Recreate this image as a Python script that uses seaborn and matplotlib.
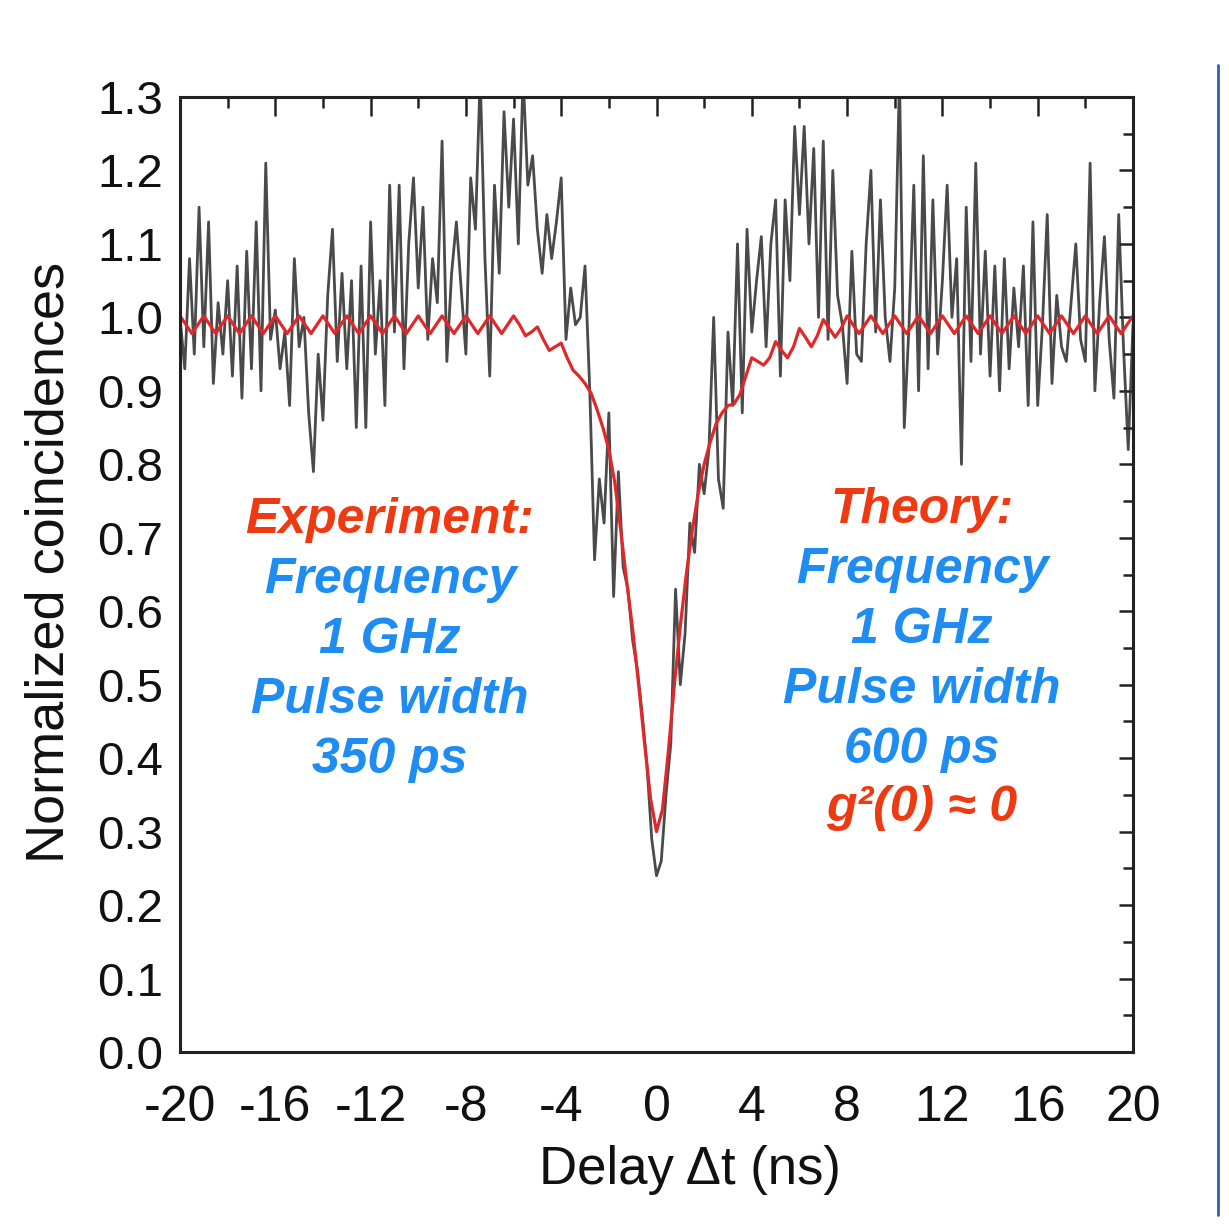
import numpy as np
import pandas as pd
import matplotlib
matplotlib.use("Agg")
import matplotlib.pyplot as plt
from matplotlib.lines import Line2D
from matplotlib.ticker import MultipleLocator, FixedLocator
import seaborn as sns

# ---------------- data ----------------
# measured normalized coincidences, one value every 0.2 ns from -20 to 20 ns
coinc_exp = [
    1.00, 0.93, 1.08, 0.95, 1.15,   # -20
    0.96, 1.13, 0.91, 1.02, 0.95,   # -19
    1.05, 0.92, 1.07, 0.89, 1.09,   # -18
    0.93, 1.13, 0.90, 1.21, 0.97,   # -17
    1.01, 0.93, 0.98, 0.88, 1.08,   # -16
    0.96, 1.00, 0.87, 0.79, 0.95,   # -15
    0.86, 1.03, 1.12, 0.94, 1.06,   # -14
    0.93, 1.05, 0.85, 1.07, 0.85,   # -13
    1.13, 0.95, 1.05, 0.88, 1.18,   # -12
    0.98, 1.18, 0.93, 1.10, 1.19,   # -11
    1.04, 1.15, 0.97, 1.08, 1.02,   # -10
    1.24, 0.94, 1.06, 1.13, 1.04,   # -9
    0.95, 1.19, 1.12, 1.33, 1.08,   # -8
    0.92, 1.18, 1.06, 1.28, 1.15,   # -7
    1.27, 1.10, 1.33, 1.18, 1.22,   # -6
    1.12, 1.06, 1.14, 1.08, 1.13,   # -5
    1.19, 0.97, 1.04, 0.99, 1.00,   # -4
    1.07, 0.90, 0.67, 0.78, 0.72,   # -3
    0.87, 0.62, 0.79, 0.66, 0.63,   # -2
    0.56, 0.52, 0.46, 0.39, 0.29,   # -1
    0.24, 0.26, 0.35, 0.42, 0.63,   # 0
    0.50, 0.57, 0.72, 0.68, 0.80,   # 1
    0.76, 0.82, 1.00, 0.78, 0.74,   # 2
    0.98, 0.88, 1.10, 0.87, 1.12,   # 3
    0.98, 1.05, 1.11, 0.96, 1.10,   # 4
    1.16, 0.92, 1.16, 1.05, 1.26,   # 5
    1.14, 1.26, 1.10, 1.23, 1.00,   # 6
    1.24, 0.97, 1.20, 1.03, 0.99,   # 7
    0.91, 1.09, 0.95, 0.94, 1.10,   # 8
    1.20, 0.98, 1.16, 1.00, 0.94,   # 9
    1.04, 1.33, 0.85, 0.99, 1.18,   # 10
    0.90, 1.22, 0.93, 1.16, 0.95,   # 11
    1.05, 1.18, 1.00, 1.08, 0.80,   # 12
    1.15, 0.94, 1.21, 0.95, 1.09,   # 13
    0.92, 1.07, 0.90, 1.08, 0.93,   # 14
    1.04, 0.96, 1.07, 0.88, 1.13,   # 15
    0.88, 0.99, 1.14, 0.91, 1.03,   # 16
    0.96, 0.94, 1.02, 1.10, 0.97,   # 17
    0.94, 1.21, 0.90, 1.02, 1.11,   # 18
    0.97, 0.89, 1.14, 0.96, 0.82,   # 19
    0.99,                           # 20
]

# theory curve, one value every 0.25 ns from -20 to 20 ns
coinc_theory = [
    1.002, 0.990, 0.978, 0.990,   # -20
    1.002, 0.990, 0.978, 0.990,   # -19
    1.002, 0.990, 0.978, 0.990,   # -18
    1.002, 0.990, 0.978, 0.990,   # -17
    1.002, 0.990, 0.978, 0.990,   # -16
    1.002, 0.990, 0.978, 0.990,   # -15
    1.002, 0.990, 0.978, 0.990,   # -14
    1.002, 0.990, 0.978, 0.990,   # -13
    1.002, 0.990, 0.978, 0.990,   # -12
    1.002, 0.990, 0.978, 0.990,   # -11
    1.002, 0.990, 0.978, 0.990,   # -10
    1.002, 0.990, 0.978, 0.990,   # -9
    1.002, 0.990, 0.978, 0.990,   # -8
    1.002, 0.990, 0.978, 0.990,   # -7
    1.002, 0.990, 0.975, 0.980,   # -6
    0.987, 0.970, 0.955, 0.960,   # -5
    0.965, 0.945, 0.928, 0.920,   # -4
    0.910, 0.897, 0.875, 0.850,   # -3
    0.820, 0.775, 0.710, 0.640,   # -2
    0.575, 0.500, 0.420, 0.345,   # -1
    0.300, 0.330, 0.410, 0.500,   # 0
    0.580, 0.650, 0.710, 0.760,   # 1
    0.800, 0.830, 0.855, 0.870,   # 2
    0.880, 0.882, 0.895, 0.920,   # 3
    0.945, 0.940, 0.935, 0.945,   # 4
    0.967, 0.955, 0.945, 0.960,   # 5
    0.985, 0.973, 0.960, 0.975,   # 6
    0.997, 0.985, 0.973, 0.985,   # 7
    1.002, 0.990, 0.978, 0.990,   # 8
    1.002, 0.990, 0.978, 0.990,   # 9
    1.002, 0.990, 0.978, 0.990,   # 10
    1.002, 0.990, 0.978, 0.990,   # 11
    1.002, 0.990, 0.978, 0.990,   # 12
    1.002, 0.990, 0.978, 0.990,   # 13
    1.002, 0.990, 0.978, 0.990,   # 14
    1.002, 0.990, 0.978, 0.990,   # 15
    1.002, 0.990, 0.978, 0.990,   # 16
    1.002, 0.990, 0.978, 0.990,   # 17
    1.002, 0.990, 0.978, 0.990,   # 18
    1.002, 0.990, 0.978, 0.990,   # 19
    1.002,                        # 20
]

xtick_values = [-20, -16, -12, -8, -4, 0, 4, 8, 12, 16, 20]
xtick_labels = ["-20", "-16", "-12", "-8", "-4", "0", "4", "8", "12", "16", "20"]
ytick_values = [0.0, 0.1, 0.2, 0.3, 0.4, 0.5, 0.6, 0.7, 0.8, 0.9, 1.0, 1.1, 1.2, 1.3]
ytick_labels = ["0.0", "0.1", "0.2", "0.3", "0.4", "0.5", "0.6", "0.7",
                "0.8", "0.9", "1.0", "1.1", "1.2", "1.3"]

left_notes = ["Experiment:", "Frequency", "1 GHz", "Pulse width", "350 ps"]
right_notes = ["Theory:", "Frequency", "1 GHz", "Pulse width", "600 ps", "g\u00b2(0) \u2248 0"]

delay_exp = np.linspace(-20, 20, len(coinc_exp))
delay_theory = np.linspace(-20, 20, len(coinc_theory))
df_exp = pd.DataFrame({"delay": delay_exp, "coinc": coinc_exp})
df_th = pd.DataFrame({"delay": delay_theory, "coinc": coinc_theory})

# ---------------- style ----------------
sns.set_theme(style="white")
plt.rcParams["font.family"] = ["Liberation Sans", "DejaVu Sans"]

RED = "#EE3A12"
BLUE = "#1E8CF0"

fig = plt.figure(figsize=(12.29, 12.29), dpi=100)
fig.patch.set_facecolor("white")
ax = fig.add_axes([180 / 1229, 1 - 1052 / 1229, 953 / 1229, 955 / 1229])
ax.set_facecolor("white")

sns.lineplot(data=df_exp, x="delay", y="coinc", ax=ax, color="#2a2a2a",
             linewidth=2.0, alpha=0.85, estimator=None, sort=False)
sns.lineplot(data=df_th, x="delay", y="coinc", ax=ax, color="#E0282A",
             linewidth=2.3, estimator=None, sort=False)

ax.set_xlim(-20, 20)
ax.set_ylim(0, 1.3)

ax.xaxis.set_major_locator(FixedLocator(xtick_values))
ax.set_xticklabels(xtick_labels)
ax.xaxis.set_minor_locator(MultipleLocator(2))
ax.yaxis.set_major_locator(FixedLocator(ytick_values))
ax.set_yticklabels(ytick_labels)
ax.yaxis.set_minor_locator(MultipleLocator(0.05))

ax.tick_params(which="both", direction="in", top=True, right=True,
               width=1.8, color="#222222", labelcolor="#111111")
ax.tick_params(axis="x", which="major", length=14, pad=24, labelsize=36)
ax.tick_params(axis="x", which="minor", length=8)
ax.tick_params(axis="y", which="major", length=10, pad=12, labelsize=34)
ax.tick_params(axis="y", which="minor", length=7)

for sp in ax.spines.values():
    sp.set_visible(True)
    sp.set_color("#222222")
    sp.set_linewidth(2.2)

ax.set_xlabel("Delay \u0394t (ns)", fontsize=38, color="#111111")
ax.xaxis.set_label_coords(0.535, -0.124)
ax.xaxis.label.set_va("center")
ax.set_ylabel("Normalized coincidences", fontsize=39, color="#111111")
ax.yaxis.set_label_coords(-0.137, 0.513)
ax.yaxis.label.set_va("center")

# annotations
left_y = [0.724, 0.643, 0.561, 0.479, 0.397]
for i, (txt, yy) in enumerate(zip(left_notes, left_y)):
    ax.text(-11.19, yy, txt, ha="center", va="center", fontsize=36,
            fontweight="bold", fontstyle="italic",
            color=RED if i == 0 else BLUE)
right_y = [0.738, 0.656, 0.574, 0.493, 0.411, 0.332]
for i, (txt, yy) in enumerate(zip(right_notes, right_y)):
    ax.text(11.14, yy, txt, ha="center", va="center", fontsize=36,
            fontweight="bold", fontstyle="italic",
            color=RED if i in (0, len(right_notes) - 1) else BLUE)

# thin blue frame line at right edge of slide
fig.add_artist(Line2D([1218 / 1229, 1218 / 1229], [1 - 65 / 1229, 1 - 1215 / 1229],
                      transform=fig.transFigure, color="#2a62b8", linewidth=2))

fig.savefig("out.png", dpi=100, facecolor="white")
